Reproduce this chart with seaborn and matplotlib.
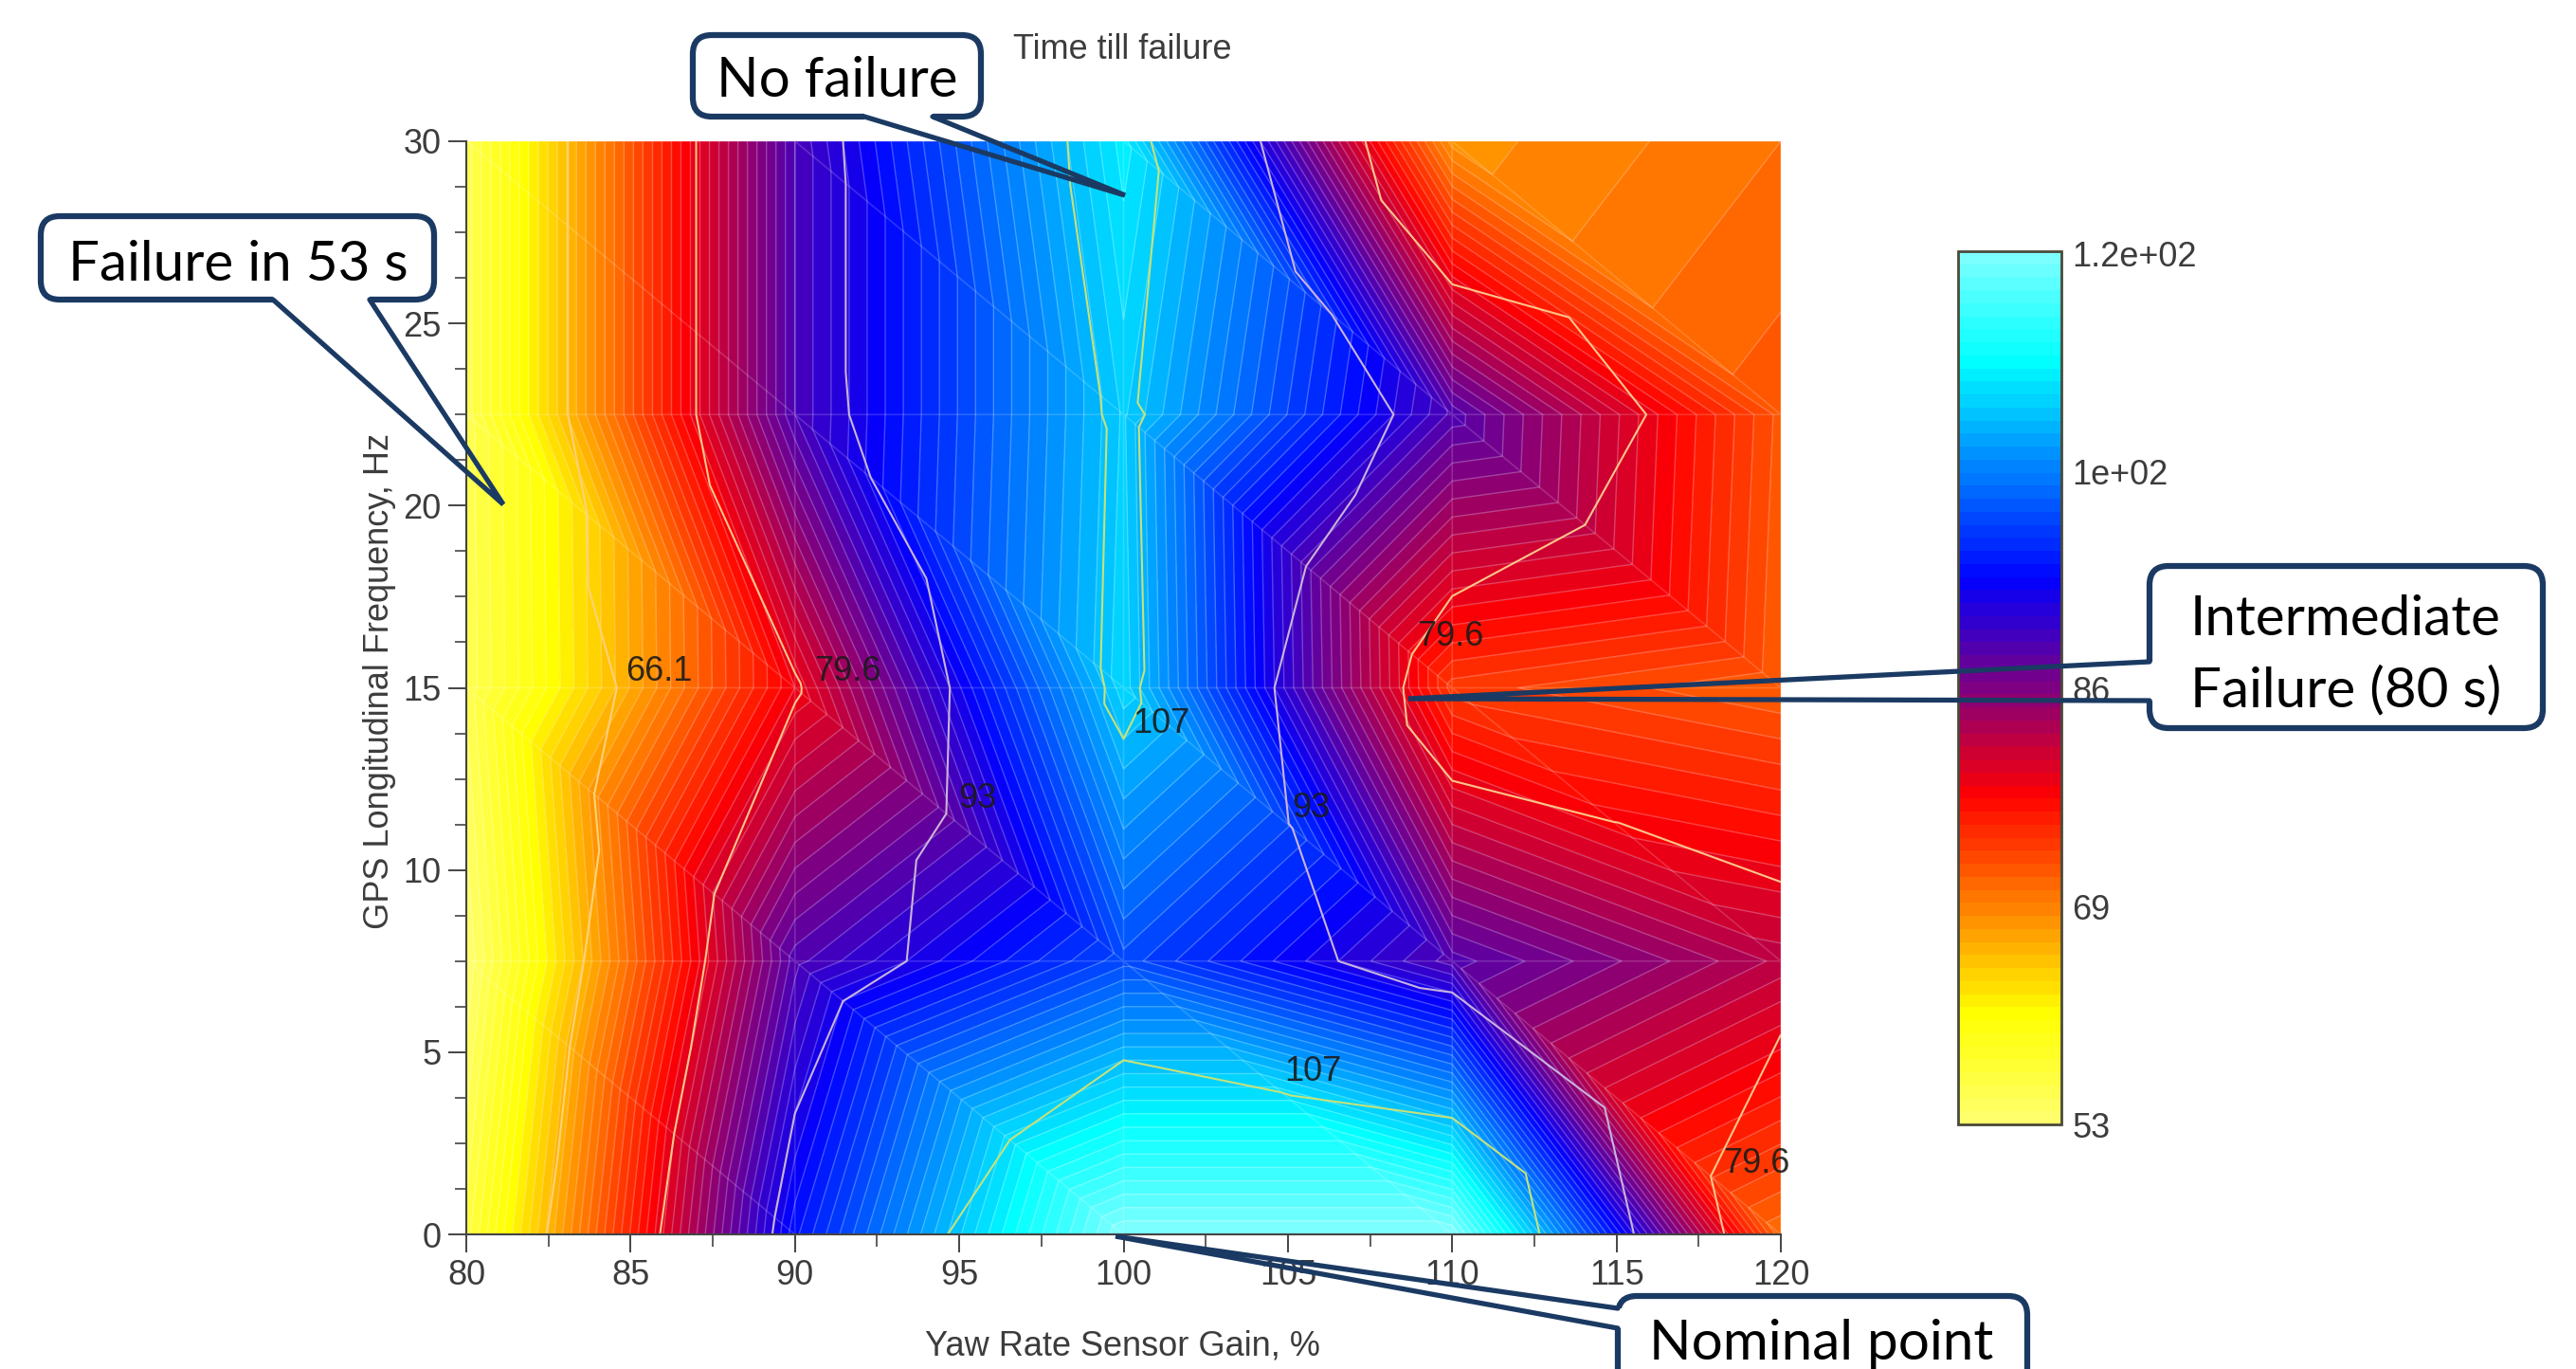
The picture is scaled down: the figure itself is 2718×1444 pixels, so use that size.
import numpy as np
import pandas as pd
import matplotlib
matplotlib.use("Agg")
import matplotlib.pyplot as plt
import matplotlib.tri as mtri
from matplotlib.patches import FancyBboxPatch
import seaborn as sns

# Sweep grid
yaw_gain = [80, 90, 100, 110, 120]
gps_freq = [0, 7.5, 15, 22.5, 30]

# Time till failure at each grid node, one list per GPS frequency
time_at_0 = [56.5, 95.7, 120, 120, 71.2]
time_at_7_5 = [53, 89.6, 99.6, 89.5, 82.7]
time_at_15 = [55.2, 79, 108.7, 74.5, 72]
time_at_22_5 = [55.4, 90, 108.2, 89.7, 72.6]
time_at_30 = [55.4, 90, 110.5, 68.5, 71]

# The isolines also bend at the middle of every cell
mid_gain = [85, 95, 105, 115]
mid_freq = [3.75, 11.25, 18.75, 26.25]
time_mid_3_75 = [73.8, 101.2, 107.3, 90.9]
time_mid_11_25 = [69.2, 94.2, 93.1, 79.7]
time_mid_18_75 = [69.9, 96.5, 95.3, 77.2]
time_mid_26_25 = [72.7, 99.7, 94.2, 75.5]

iso_levels = [66.1, 79.6, 93, 107]
iso_colors = ["#ffd27a", "#ffc58a", "#c9b4dc", "#c6e27a"]

# level label, x, y
iso_labels = [
    ("66.1", 85.85, 15.45),
    ("79.6", 91.6, 15.45),
    ("79.6", 109.95, 16.4),
    ("107", 101.15, 14.0),
    ("93", 95.55, 11.95),
    ("93", 105.7, 11.7),
    ("107", 105.75, 4.45),
    ("79.6", 119.25, 1.95),
]

cbar_ticks = [53, 69.7, 86.4, 103.1, 119.8]
cbar_labels = ["53", "69", "86", "1e+02", "1.2e+02"]

map_colors = ["#ffff70", "#ffff00", "#ff8000", "#ff0000", "#800080",
              "#0000ff", "#0080ff", "#00ffff", "#80ffff"]

W, H = 2718, 1444
AX_L, AX_R, AX_T, AX_B = 492, 1879, 149, 1302
CB_L, CB_R, CB_T, CB_B = 2066, 2175, 265, 1186
TEXT = "#3c3c3c"
CALLOUT = "#1b3a63"


def rect(l, r, t, b):
    return [l / W, 1 - b / H, (r - l) / W, (b - t) / H]


sns.set_theme(style="ticks")
plt.rcParams["font.family"] = ["Liberation Sans", "DejaVu Sans"]

corners = pd.DataFrame([time_at_0, time_at_7_5, time_at_15, time_at_22_5, time_at_30],
                       index=gps_freq, columns=yaw_gain)
middles = pd.DataFrame([time_mid_3_75, time_mid_11_25, time_mid_18_75, time_mid_26_25],
                       index=mid_freq, columns=mid_gain)
corner_df = corners.stack().rename_axis(["freq", "gain"]).reset_index(name="time")
all_df = pd.concat([corners.stack(), middles.stack()]).rename_axis(["freq", "gain"]).reset_index(name="time")

# Fill mesh: every cell split from top left to bottom right
# Line mesh: four triangles per cell, meeting at the middle node
nx, ny = len(yaw_gain), len(gps_freq)
n_corner = nx * ny
fill_tris = []
line_tris = []
for j in range(ny - 1):
    for i in range(nx - 1):
        a = j * nx + i
        b = a + 1
        c = a + nx
        d = c + 1
        m = n_corner + j * (nx - 1) + i
        fill_tris += [[a, b, c], [b, d, c]]
        line_tris += [[a, b, m], [b, d, m], [d, c, m], [c, a, m]]
fill_grid = mtri.Triangulation(corner_df["gain"], corner_df["freq"], fill_tris)
line_grid = mtri.Triangulation(all_df["gain"], all_df["freq"], line_tris)

cmap = sns.blend_palette(map_colors, n_colors=256, as_cmap=True)
levels = np.linspace(53, 120, 68)

fig = plt.figure(figsize=(W / 100, H / 100), dpi=100, facecolor="white")
ax = fig.add_axes(rect(AX_L, AX_R, AX_T, AX_B))

fill = ax.tricontourf(fill_grid, corner_df["time"], levels=levels, cmap=cmap, vmin=53, vmax=120)
ax.tricontour(fill_grid, corner_df["time"], levels=levels, colors="white", linewidths=1, alpha=0.26)
ax.triplot(fill_grid, color="white", linewidth=1.2, alpha=0.17)
ax.tricontour(line_grid, all_df["time"], levels=iso_levels, colors=iso_colors, linewidths=1.5)

for label, x, y in iso_labels:
    ax.text(x, y, label, ha="center", va="center", fontsize=26, color="#1a1a1a", alpha=0.9)

ax.set_xlim(80, 120)
ax.set_ylim(0, 30)
ax.set_xticks(np.arange(80, 121, 5))
ax.set_xticks(np.arange(80, 121, 2.5), minor=True)
ax.set_yticks(np.arange(0, 31, 5))
ax.set_yticks(np.arange(0, 30.1, 1.25), minor=True)
ax.tick_params(which="major", length=14, width=1.4, color="#444444", labelsize=26,
               labelcolor=TEXT, pad=5)
ax.tick_params(which="minor", length=9, width=1.2, color="#444444")
sns.despine(ax=ax)
for side in ["left", "bottom"]:
    ax.spines[side].set_color("#444444")
    ax.spines[side].set_linewidth(1.5)

cax = fig.add_axes(rect(CB_L, CB_R, CB_T, CB_B))
cbar = fig.colorbar(fill, cax=cax)
cbar.set_ticks(cbar_ticks, labels=cbar_labels)
cbar.ax.minorticks_off()
cbar.ax.tick_params(length=0, labelsize=26, labelcolor=TEXT, pad=8)
cbar.outline.set_edgecolor("#4a4a3a")
cbar.outline.set_linewidth(2)
cbar.ax.hlines(levels, 53, 120, colors="white", linewidth=0.8, alpha=0.26)

# Everything else is placed in picture pixels on a see-through layer
top = fig.add_axes([0, 0, 1, 1], zorder=10)
top.set_xlim(0, W)
top.set_ylim(H, 0)
top.axis("off")
top.patch.set_alpha(0)

top.text(1184, 52, "Time till failure", ha="center", va="center", fontsize=26, color=TEXT)
top.text(1184, 1420, "Yaw Rate Sensor Gain, %", ha="center", va="center", fontsize=26, color=TEXT)
top.text(400, 718, "GPS Longitudinal Frequency, Hz", ha="center", va="center", rotation=90,
         fontsize=26, color=TEXT)

# text, box (l, r, t, b), tail base points, tip
callouts = [
    ("No failure", (731, 1035, 37, 123), (912, 123), (984, 123), (1187, 206), (883, 86)),
    ("Failure in 53 s", (43, 458, 228, 316), (288, 316), (390, 316), (531, 532), (251, 279)),
    ("Intermediate\nFailure (80 s)", (2268, 2683, 597, 768), (2268, 698), (2268, 739),
     (1486, 737), (2475, 691)),
    ("Nominal point", (1707, 2139, 1367, 1480), (1707, 1380), (1707, 1401), (1177, 1304),
     (1922, 1418)),
]
for label, (l, r, t, b), p1, p2, tip, centre in callouts:
    box = FancyBboxPatch((l + 20, t + 20), r - l - 40, b - t - 40,
                         boxstyle="round,pad=20,rounding_size=20",
                         facecolor="white", edgecolor=CALLOUT, linewidth=4.5, zorder=2)
    top.add_patch(box)
    top.plot([p1[0], p2[0]], [p1[1], p2[1]], color="white", linewidth=6, zorder=3,
             solid_capstyle="butt")
    top.plot([p1[0], tip[0], p2[0]], [p1[1], tip[1], p2[1]], color=CALLOUT, linewidth=3.8,
             zorder=4, solid_joinstyle="miter")
    top.text(centre[0], centre[1], label, ha="center", va="center", fontsize=42,
             family="Lato", color="black", linespacing=1.5, zorder=5)

fig.savefig("out.png", dpi=100, facecolor="white")
